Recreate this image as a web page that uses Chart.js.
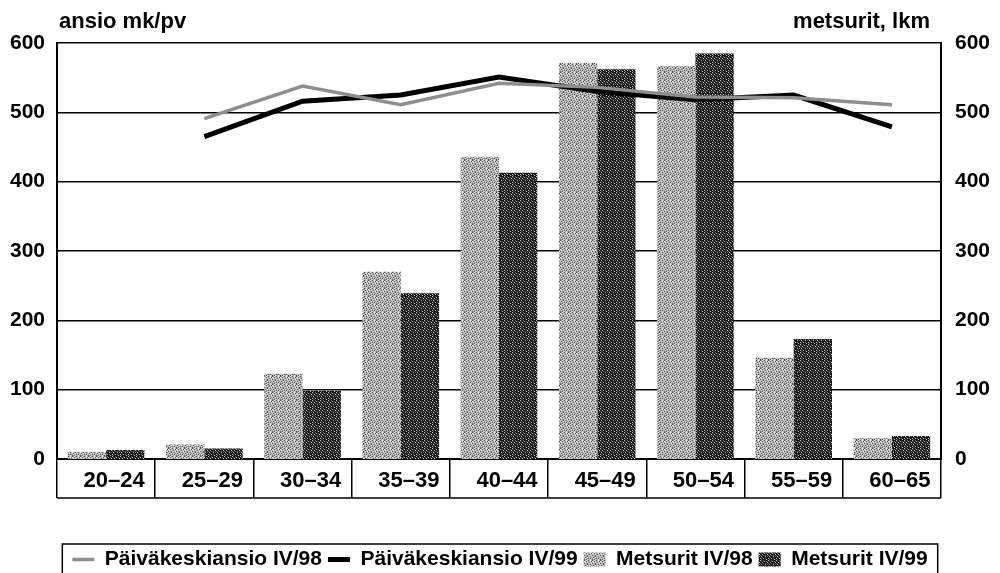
<!DOCTYPE html>
<html><head><meta charset="utf-8">
<script src="https://cdn.jsdelivr.net/npm/chart.js@4.4.1/dist/chart.umd.min.js"></script>
<style>
html,body{margin:0;padding:0;background:#fff;overflow:hidden;width:1000px;height:573px}
#wrap{width:1000px;height:580px;position:relative}
</style>
</head><body>
<div id="wrap"><canvas id="c"></canvas></div>
<script>
const categories = ['20–24','25–29','30–34','35–39','40–44','45–49','50–54','55–59','60–65'];
const ansio98 = [null, 491, 538, 511, 542, 536, 522, 521, 511];
const ansio99 = [null, 465, 516, 525, 551, 530, 518, 525, 479];
const metsurit98 = [10, 21, 123, 270, 436, 571, 567, 146, 30];
const metsurit99 = [13, 15, 98, 239, 413, 562, 585, 173, 33];
const yTicks = [0, 100, 200, 300, 400, 500, 600];
const seriesNames = ['Päiväkeskiansio IV/98', 'Päiväkeskiansio IV/99', 'Metsurit IV/98', 'Metsurit IV/99'];
const axisTitles = ['ansio mk/pv', 'metsurit, lkm'];

const FONT = '"Liberation Sans", Arial, "DejaVu Sans", sans-serif';

function makePattern(base, specks) {
  const tile = document.createElement('canvas');
  tile.width = 8; tile.height = 8;
  const g = tile.getContext('2d');
  g.fillStyle = base; g.fillRect(0, 0, 8, 8);
  specks.forEach(([color, rows]) => {
    g.fillStyle = color;
    rows.forEach((row, y) => {
      for (let x = 0; x < row.length; x++) if (row[x] === '#') g.fillRect(x, y, 1, 1);
    });
  });
  return g.createPattern(tile, 'repeat');
}
const grayFill = makePattern('#b4b4b4', [
  ['#4a4a4a', ['#...#...', '..#....#', '.....#..', '#..#....', '...#..#.', '.#......', '....#.#.', '#.#.....']],
  ['#f0f0f0', ['..#...#.', '#.....#.', '.#.#....', '.....#.#', '#.......', '...#.#..', '.#......', '...#..#.']]
]);
const darkFill = makePattern('#111111', [
  ['#d0d0d0', ['#.......', '....#...', '..#....#', '........', '.#...#..', '........', '#..#....', '......#.']],
  ['#666666', ['...#....', '.#....#.', '........', '#..#.#..', '.......#', '..#.....', '.....#..', '.#......']]
]);

const decor = {
  id: 'decor',
  afterDraw(chart) {
    const ctx = chart.ctx, a = chart.chartArea;
    ctx.save();
    ctx.fillStyle = '#000';
    ctx.font = 'bold 22px ' + FONT;
    ctx.textBaseline = 'alphabetic';
    ctx.textAlign = 'left';
    ctx.fillText(axisTitles[0], a.left + 2, 28);
    ctx.textAlign = 'right';
    ctx.fillText(axisTitles[1], a.right - 11, 28);
    // bottom line of the category label boxes
    ctx.strokeStyle = '#000';
    ctx.lineWidth = 1.5;
    ctx.beginPath();
    ctx.moveTo(a.left, a.bottom + 39);
    ctx.lineTo(a.right, a.bottom + 39);
    ctx.stroke();
    // legend frame
    const lg = chart.legend;
    if (lg && lg.legendHitBoxes && lg.legendHitBoxes.length) {
      const hb = lg.legendHitBoxes;
      const l = Math.min(...hb.map(h => h.left)) - 10;
      const r = Math.max(...hb.map(h => h.left + h.width)) + 10;
      const t = hb[0].top - 5;
      ctx.lineWidth = 1.5;
      ctx.beginPath();
      ctx.moveTo(l, chart.height + 2);
      ctx.lineTo(l, t);
      ctx.lineTo(r, t);
      ctx.lineTo(r, chart.height + 2);
      ctx.stroke();
    }
    ctx.restore();
  }
};

new Chart(document.getElementById('c'), {
  type: 'bar',
  data: {
    labels: categories,
    datasets: [
      { type: 'line', label: seriesNames[0], data: ansio98, yAxisID: 'y', order: 0,
        borderColor: '#8e8e8e', borderWidth: 3.5, pointRadius: 0, tension: 0, spanGaps: false },
      { type: 'line', label: seriesNames[1], data: ansio99, yAxisID: 'y', order: 0,
        borderColor: '#000', borderWidth: 5, pointRadius: 0, tension: 0, spanGaps: false },
      { type: 'bar', label: seriesNames[2], data: metsurit98, yAxisID: 'y1', order: 1,
        backgroundColor: grayFill, borderWidth: 0, categoryPercentage: 0.78, barPercentage: 1 },
      { type: 'bar', label: seriesNames[3], data: metsurit99, yAxisID: 'y1', order: 1,
        backgroundColor: darkFill, borderWidth: 0, categoryPercentage: 0.78, barPercentage: 1 }
    ]
  },
  options: {
    responsive: true,
    maintainAspectRatio: false,
    animation: false,
    layout: { padding: { top: 43, left: 0, right: 0, bottom: 0 } },
    plugins: {
      tooltip: { enabled: false },
      legend: {
        position: 'bottom',
        labels: {
          color: '#000',
          font: { family: FONT, size: 21, weight: 'bold' },
          usePointStyle: true,
          pointStyleWidth: 22,
          boxHeight: 14,
          padding: 6,
          generateLabels(chart) {
            return chart.data.datasets.map((ds, i) => ({
              text: ds.label,
              datasetIndex: i,
              pointStyle: ds.type === 'line' ? 'line' : 'rect',
              fillStyle: ds.type === 'line' ? ds.borderColor : ds.backgroundColor,
              strokeStyle: ds.type === 'line' ? ds.borderColor : 'rgba(0,0,0,0)',
              lineWidth: ds.type === 'line' ? ds.borderWidth : 0,
              fontColor: '#000',
              hidden: false
            }));
          }
        }
      }
    },
    scales: {
      x: {
        offset: true,
        grid: { display: true, drawOnChartArea: false, drawTicks: true, tickLength: 39, color: '#000', lineWidth: 1.5, offset: true },
        border: { display: true, color: '#000', width: 2 },
        ticks: { color: '#000', font: { family: FONT, size: 22, weight: 'bold' }, padding: -30, labelOffset: 8, maxRotation: 0, autoSkip: false },
        afterFit(axis) { axis.height = 84; }
      },
      y: {
        position: 'left',
        min: 0, max: 600,
        afterBuildTicks(axis) { axis.ticks = yTicks.map(v => ({ value: v })); },
        grid: { color: '#000', lineWidth: 1.5, drawTicks: false },
        border: { display: true, color: '#000', width: 2 },
        ticks: { color: '#000', font: { family: FONT, size: 21, weight: 'bold' }, padding: 12 },
        afterFit(axis) { axis.width = 57; }
      },
      y1: {
        position: 'right',
        min: 0, max: 600,
        afterBuildTicks(axis) { axis.ticks = yTicks.map(v => ({ value: v })); },
        grid: { display: false, drawTicks: false },
        border: { display: true, color: '#000', width: 2 },
        ticks: { color: '#000', font: { family: FONT, size: 21, weight: 'bold' }, padding: 14 },
        afterFit(axis) { axis.width = 59; }
      }
    }
  },
  plugins: [decor]
});
</script>
</body></html>
